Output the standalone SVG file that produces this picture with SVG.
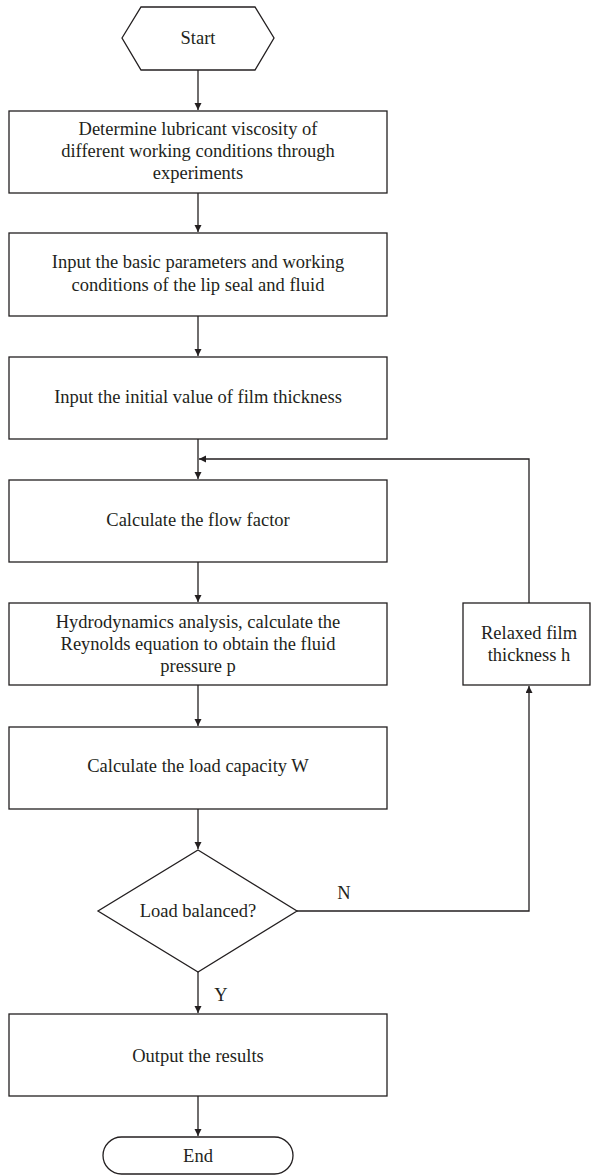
<svg xmlns="http://www.w3.org/2000/svg" width="591" height="1176" viewBox="0 0 591 1176">
<style>
.s{fill:#fff;stroke:#231f20;stroke-width:1.3}
.t{font-family:"Liberation Serif",serif;font-size:18.5px;fill:#231f20;text-anchor:middle;dominant-baseline:central}
.c{fill:none;stroke:#231f20;stroke-width:1.3}
</style>
<defs>
<marker id="a" markerWidth="8" markerHeight="8" refX="7" refY="3.5" orient="auto" markerUnits="userSpaceOnUse">
<path d="M0,0 L7,3.5 L0,7 z" fill="#231f20"/>
</marker>
</defs>
<rect width="591" height="1176" fill="#fff"/>
<g id="connectors">
<path class="c" d="M198,70 V110" marker-end="url(#a)"/>
<path class="c" d="M198,193 V232" marker-end="url(#a)"/>
<path class="c" d="M198,316 V356" marker-end="url(#a)"/>
<path class="c" d="M198,439 V479" marker-end="url(#a)"/>
<path class="c" d="M198,562 V602" marker-end="url(#a)"/>
<path class="c" d="M198,685 V726" marker-end="url(#a)"/>
<path class="c" d="M198,809 V849" marker-end="url(#a)"/>
<path class="c" d="M198,972 V1013" marker-end="url(#a)"/>
<path class="c" d="M198,1096 V1136" marker-end="url(#a)"/>
<path class="c" d="M297,911 H529 V686" marker-end="url(#a)"/>
<path class="c" d="M529,603 V459 H199" marker-end="url(#a)"/>
<text class="t" x="344" y="893">N</text>
<text class="t" x="221" y="995">Y</text>
</g>
<g id="start">
<polygon class="s" points="122,38 141,7 255,7 274,38 255,70 141,70"/>
<text class="t" x="198" y="38">Start</text>
</g>
<g id="n1">
<rect class="s" x="9" y="111" width="378" height="82"/>
<text class="t" x="198" y="129">Determine lubricant viscosity of</text>
<text class="t" x="198" y="151">different working conditions through</text>
<text class="t" x="198" y="173">experiments</text>
</g>
<g id="n2">
<rect class="s" x="9" y="233" width="378" height="83"/>
<text class="t" x="198" y="262">Input the basic parameters and working</text>
<text class="t" x="198" y="285">conditions of the lip seal and fluid</text>
</g>
<g id="n3">
<rect class="s" x="9" y="357" width="378" height="82"/>
<text class="t" x="198" y="397">Input the initial value of film thickness</text>
</g>
<g id="n4">
<rect class="s" x="9" y="480" width="378" height="82"/>
<text class="t" x="198" y="520">Calculate the flow factor</text>
</g>
<g id="n5">
<rect class="s" x="9" y="603" width="378" height="82"/>
<text class="t" x="198" y="622">Hydrodynamics analysis, calculate the</text>
<text class="t" x="198" y="644">Reynolds equation to obtain the fluid</text>
<text class="t" x="198" y="666">pressure p</text>
</g>
<g id="relax">
<rect class="s" x="463" y="603" width="127" height="82"/>
<text class="t" x="529" y="633">Relaxed film</text>
<text class="t" x="529" y="655">thickness h</text>
</g>
<g id="n6">
<rect class="s" x="9" y="727" width="378" height="82"/>
<text class="t" x="198" y="766">Calculate the load capacity W</text>
</g>
<g id="decision">
<polygon class="s" points="198,850 297,911 198,972 98,911"/>
<text class="t" x="198" y="911">Load balanced?</text>
</g>
<g id="n7">
<rect class="s" x="9" y="1014" width="378" height="82"/>
<text class="t" x="198" y="1056">Output the results</text>
</g>
<g id="end">
<rect class="s" x="103" y="1137" width="190" height="37" rx="18.5" ry="18.5"/>
<text class="t" x="198" y="1156">End</text>
</g>
</svg>
